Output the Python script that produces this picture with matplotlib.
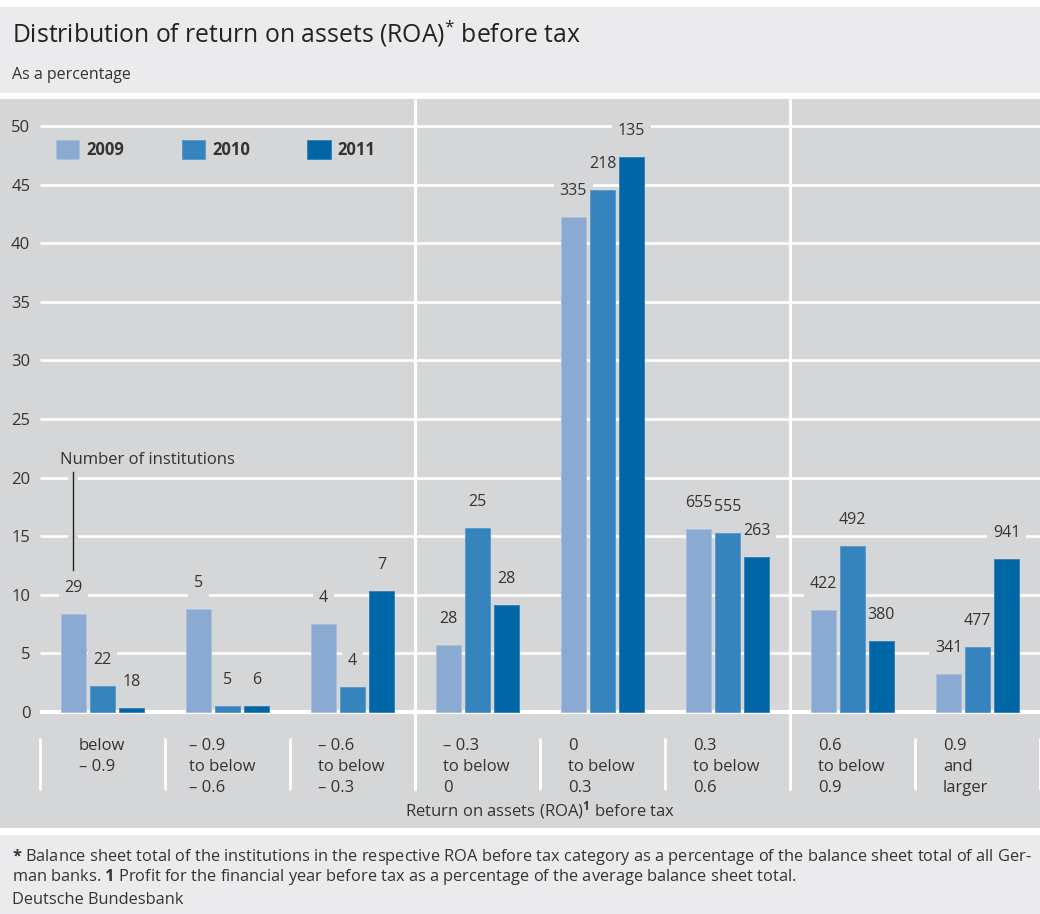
import matplotlib
matplotlib.use("Agg")
import matplotlib.pyplot as plt
from matplotlib.patches import Rectangle, Patch
import matplotlib.patheffects as pe

# ---------------- data ----------------
categories = [
    ["below", "\u2013 0.9"],
    ["\u2013 0.9", "to below", "\u2013 0.6"],
    ["\u2013 0.6", "to below", "\u2013 0.3"],
    ["\u2013 0.3", "to below", "0"],
    ["0", "to below", "0.3"],
    ["0.3", "to below", "0.6"],
    ["0.6", "to below", "0.9"],
    ["0.9", "and", "larger"],
]
years = ["2009", "2010", "2011"]
share_2009 = [8.35, 8.75, 7.5, 5.7, 42.25, 15.6, 8.7, 3.25]
share_2010 = [2.2, 0.55, 2.15, 15.7, 44.55, 15.25, 14.15, 5.55]
share_2011 = [0.3, 0.55, 10.35, 9.15, 47.35, 13.2, 6.1, 13.05]
count_2009 = [29, 5, 4, 28, 335, 655, 422, 341]
count_2010 = [22, 5, 4, 25, 218, 555, 492, 477]
count_2011 = [18, 6, 7, 28, 135, 263, 380, 941]
yticks = [0, 5, 10, 15, 20, 25, 30, 35, 40, 45, 50]

title = "Distribution of return on assets (ROA)$^{*}$ before tax"
subtitle = "As a percentage"
xlabel = "Return on assets (ROA)$^{\\mathbf{1}}$ before tax"
annot_text = "Number of institutions"
foot1 = ("$\\mathbf{*}$ Balance sheet total of the institutions in the respective ROA before tax "
         "category as a percentage of the balance sheet total of all Ger-")
foot2 = ("man banks. $\\mathbf{1}$ Profit for the financial year before tax as a percentage "
         "of the average balance sheet total.")
source = "Deutsche Bundesbank"

# ---------------- style ----------------
plt.rcParams['font.family'] = ['Open Sans', 'DejaVu Sans']
plt.rcParams['mathtext.fontset'] = 'custom'
plt.rcParams['mathtext.rm'] = 'Open Sans'
plt.rcParams['mathtext.it'] = 'Open Sans:italic'
plt.rcParams['mathtext.bf'] = 'Open Sans:bold'

W, H = 1040, 914
TXT = '#333333'
PANEL = '#d5d6d8'
LIGHT = '#ebebed'
colors = ['#8aaad2', '#3584bd', '#0066a6']
edges = ['#a9c0de', '#5c9bcb', '#3a82b6']

fig = plt.figure(figsize=(W / 100, H / 100), dpi=100)

def fy(px):
    return 1 - px / H

# background panels
for top, bot, col in [(7, 93, LIGHT), (99, 828, PANEL), (835, 914, LIGHT)]:
    fig.add_artist(Rectangle((0, fy(bot)), 1, (bot - top) / H, transform=fig.transFigure,
                             facecolor=col, edgecolor='none', zorder=-10))

# axes: x from 40 to 1040 px, y from 99 to 828 px
ax_top, ax_bot = 99, 828
ax = fig.add_axes([40 / W, fy(ax_bot), 1000 / W, (ax_bot - ax_top) / H])
ax.set_facecolor('none')
ppu = (712 - 126) / 50.0
ax.set_ylim(-(ax_bot - 712) / ppu, 50 + (126 - ax_top) / ppu)
ax.set_xlim(-0.5, len(categories) - 0.5)
for s in ax.spines.values():
    s.set_visible(False)
ax.set_xticks([])
ax.set_yticks(yticks)
ax.set_yticklabels([str(t) for t in yticks], fontsize=12, color=TXT)
ax.tick_params(axis='y', length=0, pad=7)

def ypix(px):
    return (712 - px) / ppu

# gridlines
for t in yticks:
    ax.axhline(t, color='white', lw=3.0 if t == 0 else 1.9, zorder=1, solid_capstyle='butt')

# vertical separators
ymin_sep = ypix(790)
for xb in [2.5, 5.5]:
    ax.plot([xb, xb], [ymin_sep, ax.get_ylim()[1]], color='white', lw=2.2, zorder=1,
            solid_capstyle='butt', clip_on=False)
for k in range(len(categories) + 1):
    ax.plot([k - 0.5, k - 0.5], [ypix(738), ymin_sep], color='white', lw=2.0, zorder=1,
            solid_capstyle='butt', clip_on=False)

# bars
bw = 0.2
offs = [-0.232, 0.0, 0.232]
shares = [share_2009, share_2010, share_2011]
counts = [count_2009, count_2010, count_2011]
lab_bbox = dict(boxstyle='square,pad=0.35', facecolor=PANEL, edgecolor='none')
for j in range(3):
    xs = [i + offs[j] for i in range(len(categories))]
    ax.bar(xs, shares[j], width=bw, color=colors[j], edgecolor=edges[j], linewidth=0.7,
           zorder=2)
    for x, v, n in zip(xs, shares[j], counts[j]):
        # background box (hides gridlines) below bars, text on top
        ax.annotate(str(n), xy=(x, v), xytext=(0, 26 * 0.72), textcoords='offset points',
                    ha='center', va='center', fontsize=11.5, color='none', bbox=lab_bbox,
                    zorder=1.5)
        ax.annotate(str(n), xy=(x, v), xytext=(0, 26 * 0.72), textcoords='offset points',
                    ha='center', va='center', fontsize=11.5, color=TXT, zorder=4)

# category labels
lab_off = [0.31, 0.19, 0.225, 0.225, 0.225, 0.225, 0.225, 0.225]
line_y = [ypix(746), ypix(767), ypix(788)]
for i, lines in enumerate(categories):
    for k, s in enumerate(lines):
        ax.text(i - 0.5 + lab_off[i], line_y[k], s, ha='left', va='center', fontsize=12,
                color=TXT, clip_on=False)

ax.text((len(categories) - 1) / 2, ypix(810), xlabel, ha='center', va='center',
        fontsize=12, color=TXT)

# annotation "Number of institutions"
x_ann = (73 - 40) / 125 - 0.5
ax.plot([x_ann, x_ann], [ypix(472), ypix(570)], color='#222222', lw=1.0, zorder=3,
        path_effects=[pe.Stroke(linewidth=7, foreground=PANEL), pe.Normal()])
ax.text((60 - 40) / 125 - 0.5, ypix(460), annot_text, ha='left', va='center',
        fontsize=12, color=TXT, zorder=3)

# legend
handles = [Patch(facecolor=c, edgecolor=e, linewidth=0.7) for c, e in zip(colors, edges)]
leg = ax.legend(handles, years, loc='upper left',
                bbox_to_anchor=(16 / 1000, 1 - (140 - ax_top) / (ax_bot - ax_top)),
                ncol=3, frameon=False, borderpad=0, borderaxespad=0, handlelength=1.4,
                handleheight=1.38, handletextpad=0.42, columnspacing=3.45,
                prop={'size': 12, 'weight': 'bold'})
for t in leg.get_texts():
    t.set_color(TXT)

# title texts
fig.text(12 / W, fy(33), title, ha='left', va='center', fontsize=17.8, color='#222222')
fig.text(12 / W, fy(75), subtitle, ha='left', va='center', fontsize=11.5, color=TXT)
fig.text(12 / W, fy(857), foot1, ha='left', va='center', fontsize=11.75, color=TXT)
fig.text(12 / W, fy(877), foot2, ha='left', va='center', fontsize=11.75, color=TXT)
fig.text(12 / W, fy(900), source, ha='left', va='center', fontsize=11.75, color=TXT)

fig.savefig('out.png', dpi=100, facecolor='white')
